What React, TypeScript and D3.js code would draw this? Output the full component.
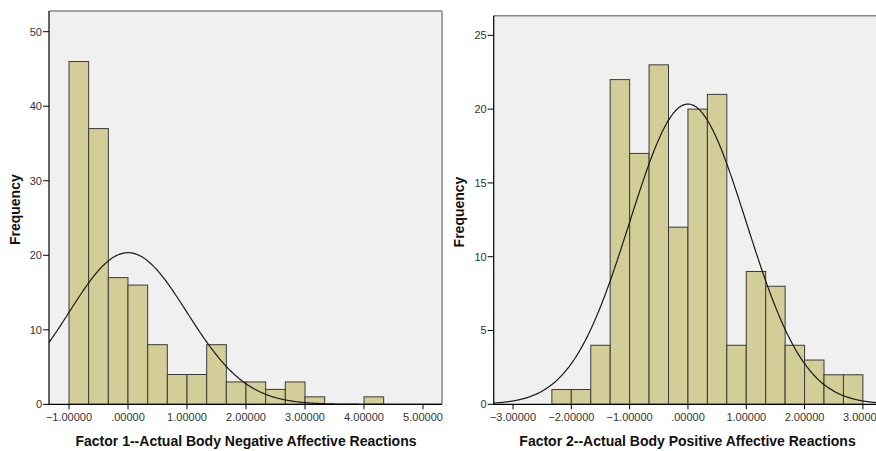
import React from "react";
import * as d3 from "d3";

// Bin counts (bin width = 1/3)
const binWidth = 1 / 3;
const f1BinStart = -1.0;
const f1Counts = [46, 37, 17, 16, 8, 4, 4, 8, 3, 3, 2, 3, 1, 0, 0, 1];
const f2BinStart = -2.3333333;
const f2Counts = [1, 1, 4, 22, 17, 23, 12, 20, 21, 4, 9, 8, 4, 3, 2, 2];

// Normal curve parameters (N, mean, sd)
const f1Stats = { n: 153, mean: 0, sd: 1 };
const f2Stats = { n: 153, mean: 0, sd: 1 };

const f1XTicks = [-1, 0, 1, 2, 3, 4, 5];
const f1YTicks = [0, 10, 20, 30, 40, 50];
const f2XTicks = [-3, -2, -1, 0, 1, 2, 3];
const f2YTicks = [0, 5, 10, 15, 20, 25];

const f1Title = "Factor 1--Actual Body Negative Affective Reactions";
const f2Title = "Factor 2--Actual Body Positive Affective Reactions";

const fmt = (v: number) => d3.format(".5f")(v).replace(/^(-?)0\./, "$1.");

type PanelProps = {
  id: string;
  counts: number[];
  start: number;
  stats: { n: number; mean: number; sd: number };
  xDomain: [number, number];
  xRange: [number, number];
  yDomain: [number, number];
  yRange: [number, number];
  xTicks: number[];
  yTicks: number[];
  title: string;
  titleX: number;
  yLabelX: number;
  showRight: boolean;
};

function Panel(p: PanelProps) {
  const x = d3.scaleLinear().domain(p.xDomain).range(p.xRange);
  const y = d3.scaleLinear().domain(p.yDomain).range(p.yRange);
  const [x0, x1] = p.xRange;
  const [yb, yt] = p.yRange;
  const peak = (p.stats.n * binWidth) / (p.stats.sd * Math.sqrt(2 * Math.PI));
  const pts = d3.range(0, 401).map((i) => {
    const v = p.xDomain[0] + ((p.xDomain[1] - p.xDomain[0]) * i) / 400;
    const z = (v - p.stats.mean) / p.stats.sd;
    return [v, peak * Math.exp(-0.5 * z * z)] as [number, number];
  });
  const line = d3
    .line<[number, number]>()
    .x((d) => x(d[0]))
    .y((d) => y(d[1]))
    .curve(d3.curveBasis);
  const font = "'Liberation Sans', Arial, sans-serif";
  return (
    <g>
      <defs>
        <clipPath id={p.id}>
          <rect x={x0} y={yt} width={x1 - x0} height={yb - yt} />
        </clipPath>
      </defs>
      <rect x={x0} y={yt} width={x1 - x0} height={yb - yt} fill="#f0f0f0" />
      {/* frame top/right */}
      <line x1={x0} x2={x1} y1={yt} y2={yt} stroke="#8a8a8a" strokeWidth={1.5} />
      {p.showRight && (
        <line x1={x1} x2={x1} y1={yt} y2={yb} stroke="#8a8a8a" strokeWidth={1.5} />
      )}
      <g clipPath={`url(#${p.id})`}>
        {p.counts.map((c, i) =>
          c > 0 ? (
            <rect
              key={i}
              x={x(p.start + i * binWidth)}
              y={y(c)}
              width={x(p.start + (i + 1) * binWidth) - x(p.start + i * binWidth)}
              height={y(0) - y(c)}
              fill="#d3ce97"
              stroke="#3a3a3a"
              strokeWidth={1}
            />
          ) : null
        )}
        <path d={line(pts) || ""} fill="none" stroke="#1a1a1a" strokeWidth={1.2} />
      </g>
      {/* axes */}
      <line x1={x0} x2={x0} y1={yt} y2={yb} stroke="#000" strokeWidth={1.2} />
      <line x1={x0} x2={x1} y1={yb} y2={yb} stroke="#000" strokeWidth={1.2} />
      {p.yTicks.map((t) => (
        <g key={t}>
          <line x1={x0 - 6} x2={x0} y1={y(t)} y2={y(t)} stroke="#000" />
          <text
            x={x0 - 7}
            y={y(t)}
            dy="0.35em"
            textAnchor="end"
            fontSize={11}
            fill="#333"
            fontFamily={font}
          >
            {t}
          </text>
        </g>
      ))}
      {p.xTicks.map((t) => (
        <g key={t}>
          <line x1={x(t)} x2={x(t)} y1={yb} y2={yb + 5} stroke="#000" />
          <text
            x={x(t)}
            y={yb + 17}
            textAnchor="middle"
            fontSize={11}
            fill="#333"
            fontFamily={font}
          >
            {fmt(t)}
          </text>
        </g>
      ))}
      <text
        x={p.titleX}
        y={446}
        textAnchor="middle"
        fontSize={14}
        fontWeight="bold"
        fill="#111"
        fontFamily={font}
      >
        {p.title}
      </text>
      <text
        transform={`translate(${p.yLabelX},${(yb + yt) / 2 + 2}) rotate(-90)`}
        textAnchor="middle"
        dy="0.35em"
        fontSize={14}
        fontWeight="bold"
        fill="#111"
        fontFamily={font}
      >
        Frequency
      </text>
    </g>
  );
}

export default function App() {
  return (
    <svg
      width={876}
      height={451}
      style={{ position: "absolute", left: 0, top: 0, background: "#fff" }}
    >
      <Panel
        id="c1"
        counts={f1Counts}
        start={f1BinStart}
        stats={f1Stats}
        xDomain={[-1.339, 5.322]}
        xRange={[49, 442]}
        yDomain={[0, 52.78]}
        yRange={[404.3, 11]}
        xTicks={f1XTicks}
        yTicks={f1YTicks}
        title={f1Title}
        titleX={246}
        yLabelX={15.5}
        showRight={true}
      />
      <Panel
        id="c2"
        counts={f2Counts}
        start={f2BinStart}
        stats={f2Stats}
        xDomain={[-3.331, 3.242]}
        xRange={[493.7, 877]}
        yDomain={[0, 26.33]}
        yRange={[404.3, 15.7]}
        xTicks={f2XTicks}
        yTicks={f2YTicks}
        title={f2Title}
        titleX={687.5}
        yLabelX={459.5}
        showRight={false}
      />
    </svg>
  );
}
